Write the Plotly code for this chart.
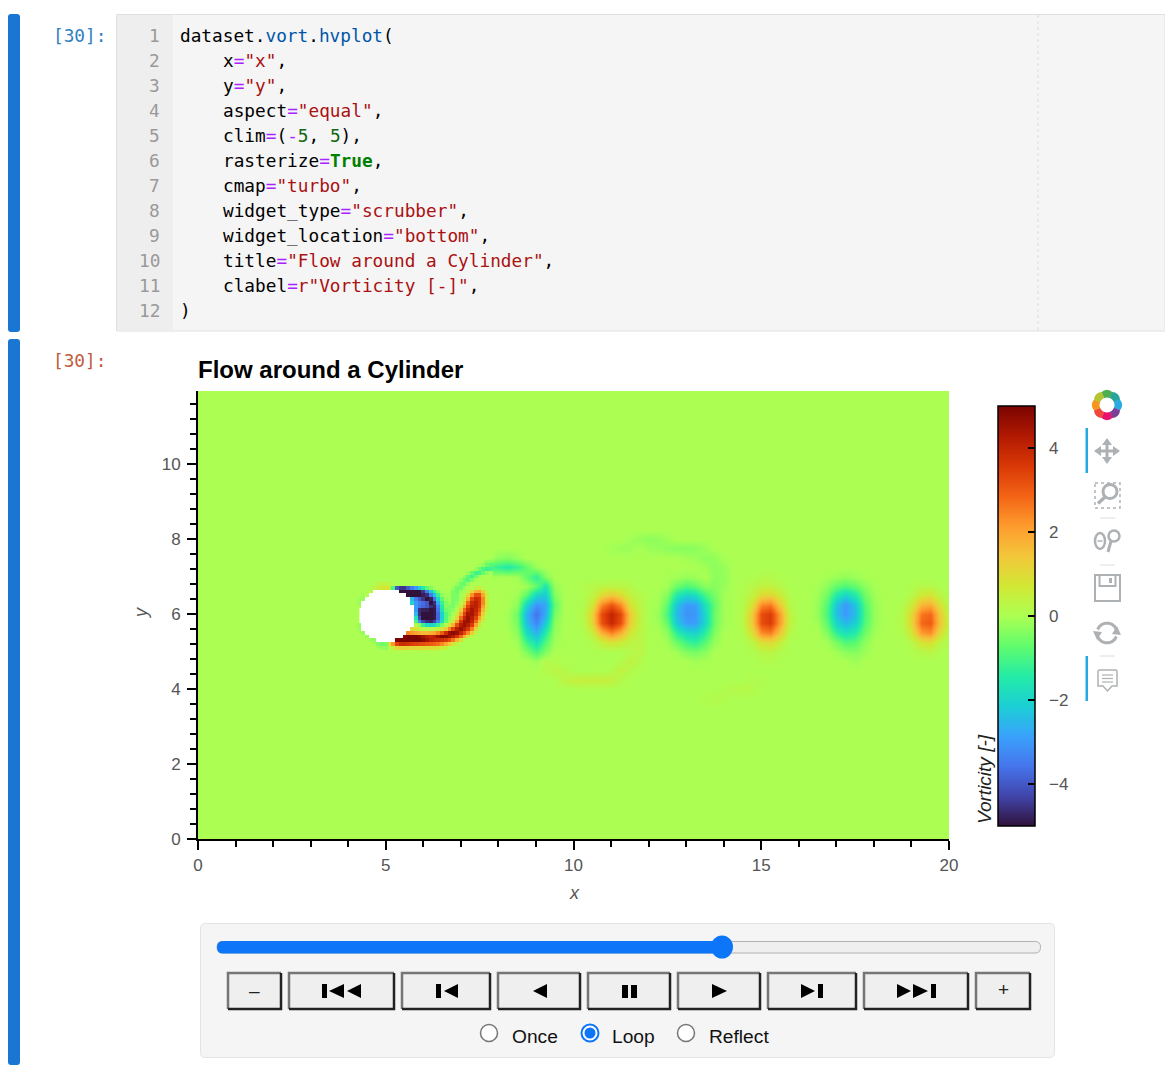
import math
import plotly.graph_objects as go

N = None

# ---------- vorticity field ----------
# Far wake, sampled every 0.25 units: {y: {x: value}}; unlisted cells are 0.
FAR_WAKE_X = [7.75 + 0.25 * i for i in range(50)]
FAR_WAKE_ROWS = {
    8.25: {},
    8.0: {11.5: -.1, 11.75: -.2, 12.0: -.3, 12.25: -.25, 12.5: -.12},
    7.75: {11.0: -.1, 11.25: -.15, 11.5: -.15, 12.0: -.15, 12.25: -.2, 12.5: -.3, 12.75: -.35, 13.0: -.35, 13.25: -.3, 13.5: -.15},
    7.5: {8.0: -.3, 8.25: -.4, 8.5: -.2, 13.0: -.1, 13.25: -.15, 13.5: -.3, 13.75: -.25, 14.0: -.05},
    7.25: {7.75: -1.0, 8.0: -1.3, 8.25: -1.5, 8.5: -1.2, 8.75: -.7, 9.0: -.15, 13.5: -.1, 13.75: -.3, 14.0: -.2},
    7.0: {7.75: -.1, 8.5: -.1, 8.75: -.7, 9.0: -1.3, 9.25: -.4, 12.5: -.05, 12.75: -.1, 13.0: -.2, 13.25: -.15, 13.75: -.3, 14.0: -.25,
          14.75: .05, 15.0: .15, 15.25: .15, 15.5: .05, 16.75: -.05, 17.0: -.15, 17.25: -.25, 17.5: -.15, 17.75: -.05},
    6.75: {8.75: -.1, 9.0: -.7, 9.25: -1.6, 9.5: -.2, 10.25: .1, 10.5: .2, 10.75: .3, 11.0: .3, 11.25: .3, 11.5: .15,
           12.5: -.1, 12.75: -.6, 13.0: -.9, 13.25: -.7, 13.5: -.3, 13.75: -.35, 14.0: -.2,
           14.5: .05, 14.75: .25, 15.0: .4, 15.25: .4, 15.5: .2, 16.5: -.05, 16.75: -.3, 17.0: -.7, 17.25: -.9, 17.5: -.7, 17.75: -.3, 18.0: -.05,
           19.0: .05, 19.25: .2, 19.5: .2, 19.75: .05},
    6.5: {8.5: -.1, 8.75: -.8, 9.0: -2.0, 9.25: -2.2, 9.5: -.4, 10.25: .1, 10.5: .3, 10.75: 1.0, 11.0: 1.4, 11.25: 1.0, 11.5: .4, 11.75: .2,
          12.25: -.05, 12.5: -.4, 12.75: -1.5, 13.0: -2.0, 13.25: -1.8, 13.5: -1.0, 13.75: -.5, 14.0: -.1,
          14.5: .1, 14.75: .4, 15.0: 1.0, 15.25: 1.1, 15.5: .6, 15.75: .1,
          16.5: -.1, 16.75: -.6, 17.0: -1.5, 17.25: -2.0, 17.5: -1.5, 17.75: -.6, 18.0: -.1, 19.0: .2, 19.25: .7, 19.5: .8, 19.75: .3},
    6.25: {8.5: -.3, 8.75: -2.0, 9.0: -3.1, 9.25: -2.8, 9.5: -.7, 10.25: .1, 10.5: .7, 10.75: 2.4, 11.0: 3.1, 11.25: 2.4, 11.5: .8, 11.75: .3,
           12.25: -.1, 12.5: -.8, 12.75: -2.3, 13.0: -3.0, 13.25: -2.9, 13.5: -1.7, 13.75: -.7, 14.0: -.1,
           14.5: .1, 14.75: .9, 15.0: 2.4, 15.25: 2.6, 15.5: 1.3, 15.75: .2,
           16.5: -.2, 16.75: -.9, 17.0: -2.3, 17.25: -3.0, 17.5: -2.3, 17.75: -.9, 18.0: -.2, 18.75: .1, 19.0: .6, 19.25: 1.7, 19.5: 1.9, 19.75: .9, 20.0: .1},
    6.0: {8.25: -.05, 8.5: -.6, 8.75: -2.6, 9.0: -3.6, 9.25: -2.7, 9.5: -.5, 10.25: .2, 10.5: 1.2, 10.75: 3.2, 11.0: 4.0, 11.25: 3.3, 11.5: 1.3, 11.75: .4,
          12.25: -.2, 12.5: -1.0, 12.75: -2.5, 13.0: -3.1, 13.25: -3.0, 13.5: -1.9, 13.75: -.6, 14.0: -.1,
          14.5: .2, 14.75: 1.4, 15.0: 3.2, 15.25: 3.5, 15.5: 2.0, 15.75: .4,
          16.5: -.2, 16.75: -1.0, 17.0: -2.4, 17.25: -3.0, 17.5: -2.4, 17.75: -1.0, 18.0: -.2, 18.75: .2, 19.0: 1.0, 19.25: 2.6, 19.5: 2.8, 19.75: 1.4, 20.0: .2},
    5.75: {8.25: -.05, 8.5: -.5, 8.75: -2.4, 9.0: -3.3, 9.25: -2.2, 9.5: -.3, 10.25: .15, 10.5: 1.1, 10.75: 3.1, 11.0: 3.9, 11.25: 3.2, 11.5: 1.2, 11.75: .4,
           12.25: -.1, 12.5: -.7, 12.75: -2.2, 13.0: -2.9, 13.25: -2.9, 13.5: -1.9, 13.75: -.6, 14.0: -.1,
           14.5: .2, 14.75: 1.4, 15.0: 3.2, 15.25: 3.5, 15.5: 2.0, 15.75: .4,
           16.5: -.1, 16.75: -.8, 17.0: -2.0, 17.25: -2.5, 17.5: -2.1, 17.75: -.9, 18.0: -.2, 18.75: .2, 19.0: 1.1, 19.25: 2.8, 19.5: 3.0, 19.75: 1.5, 20.0: .3},
    5.5: {8.5: -.3, 8.75: -1.8, 9.0: -2.6, 9.25: -1.4, 9.5: -.2, 10.25: .05, 10.5: .5, 10.75: 1.7, 11.0: 2.4, 11.25: 1.8, 11.5: .7, 11.75: .3,
          12.5: -.3, 12.75: -1.3, 13.0: -1.9, 13.25: -2.0, 13.5: -1.3, 13.75: -.4, 14.5: .1, 14.75: .9, 15.0: 2.3, 15.25: 2.5, 15.5: 1.3, 15.75: .2,
          16.75: -.4, 17.0: -1.3, 17.25: -1.7, 17.5: -1.4, 17.75: -.6, 18.0: -.1, 18.75: .1, 19.0: .7, 19.25: 2.1, 19.5: 2.3, 19.75: 1.0, 20.0: .1},
    5.25: {8.5: -.1, 8.75: -1.1, 9.0: -1.8, 9.25: -.9, 9.5: -.1, 10.5: .1, 10.75: .5, 11.0: .8, 11.25: .6, 11.5: .3, 11.75: .3,
           12.5: -.1, 12.75: -.6, 13.0: -1.1, 13.25: -1.3, 13.5: -.8, 13.75: -.2, 14.75: .3, 15.0: .9, 15.25: 1.0, 15.5: .5,
           16.75: -.1, 17.0: -.5, 17.25: -.9, 17.5: -.8, 17.75: -.3, 19.0: .2, 19.25: .8, 19.5: .9, 19.75: .3},
    5.0: {8.75: -.4, 9.0: -1.0, 9.25: -.4, 11.5: .15, 11.75: .3, 12.75: -.1, 13.0: -.4, 13.25: -.5, 13.5: -.3, 14.75: .05, 15.0: .25, 15.25: .3, 15.5: .1,
          17.0: -.1, 17.25: -.3, 17.5: -.35, 17.75: -.15, 19.0: .05, 19.25: .2, 19.5: .25, 19.75: .05},
    4.75: {9.0: -.15, 9.25: .15, 9.5: .1, 11.25: .1, 11.5: .4, 11.75: .15, 13.25: -.1, 13.5: -.05, 15.0: .1, 15.25: .1, 17.5: -.15},
    4.5: {9.25: .15, 9.5: .3, 9.75: .2, 11.0: .1, 11.25: .4, 11.5: .15},
    4.25: {9.75: .35, 10.0: .45, 10.25: .5, 10.5: .5, 10.75: .5, 11.0: .45, 11.25: .15, 14.75: .1, 15.0: .1},
    4.0: {14.0: .1, 14.25: .2, 14.5: .2, 14.75: .15},
    3.75: {13.5: .1, 13.75: .15, 14.0: .1},
    3.5: {},
}

# Near wake behind the cylinder, one cell per 0.1 units: {y: [(first x, cells), ...]}.
NEAR_WAKE_X = [4.3 + 0.1 * i for i in range(36)]
NEAR_WAKE_ROWS = {
    7.3: [(7.5, [-.1, -.3, -.6, -.9])],
    7.2: [(7.4, [-.2, -.6, -1.0, -1.2, -1.1])],
    7.1: [(7.2, [-.2, -.7, -1.1, -1.1, -.7, -.3, -.1])],
    7.0: [(7.1, [-.3, -.8, -1.1, -.6, -.2])],
    6.9: [(7.0, [-.3, -.7, -.9, -.5, -.1])],
    6.8: [(4.7, [.1, .3, .4, .4, .3, .1]), (6.9, [-.2, -.6, -.7, -.2])],
    6.7: [(4.6, [.1, .3, .5, .7, .8, .7, -1.0, -4.0, -4.5, -4.5, -4.0, -3.5, -3.0, -2.2, -1.5, -.8, -.4, -.1]),
          (6.8, [-.2, -.6, -.6, -.2]), (7.3, [.1, .4, .6, .2])],
    6.6: [(4.5, [.1, .2]), (5.4, [-5, -5, -5, -5, -5, -5, -4.5, -3.5, -2.2, -1.2, -.4, -.1]),
          (6.8, [-.5, -.6, -.2]), (7.2, [.3, 1.0, 1.8, 2.0, 1.2, .3])],
    6.5: [(4.4, [-.1, .1]), (5.6, [-5, -5, -5, -5, -4.8, -4.6, -3.5, -2.3, -1.2, -.3, -.1]),
          (6.7, [-.1, -.5, -.5, -.1]), (7.1, [.2, .9, 2.3, 3.2, 3.2, 2.0, .5])],
    6.4: [(4.3, [-.1, -.2]), (5.7, [-2.5, -3.5, -4.0, -4.5, -5, -4.8, -3.6, -2.0, -.8, -.2, -.1, -.5, -.5, -.1]),
          (7.1, [.5, 1.8, 3.3, 3.9, 3.7, 2.4, .6])],
    6.3: [(4.3, [-.2]), (5.7, [-2.0, -3.0, -3.5, -3.7, -4.0, -5, -4.6, -2.8, -1.2, -.4, -.2, -.5, -.3]),
          (7.0, [.2, 1.0, 2.8, 3.9, 4.1, 3.7, 2.4, .6])],
    6.2: [(5.8, [-3.0, -3.6, -3.8, -4.0, -4.6, -4.8, -3.4, -1.5, -.4, -.5, -.5, -.1, .5, 1.9, 3.4, 4.1, 4.1, 3.6, 2.1, .5])],
    6.1: [(5.8, [-3.0, -4.6, -4.8, -4.8, -5, -4.9, -3.6, -1.7, -.6, -.5, -.3, .1, 1.2, 2.8, 3.9, 4.4, 4.0, 3.3, 1.7, .4])],
    6.0: [(5.8, [-2.5, -4.6, -5, -5, -5, -4.9, -3.8, -2.1, -.9, -.5, -.1, .5, 2.0, 3.4, 4.4, 4.4, 3.8, 2.8, 1.2, .2])],
    5.9: [(5.8, [-1.6, -4.2, -5, -5, -5, -4.9, -3.8, -2.1, -.9, -.3, .1, 1.0, 2.8, 4.0, 4.6, 4.2, 3.4, 2.1, .8])],
    5.8: [(5.8, [-1.0, -3.2, -4.2, -4.6, -4.7, -4.3, -3.3, -1.8, -.7, -.1, .6, 2.0, 3.6, 4.5, 4.6, 4.0, 2.8, 1.4, .4])],
    5.7: [(4.3, [-.2]), (5.8, [.2, -.3, -1.2, -1.8, -2.0, -1.8, -1.2, -.5, .1, .8, 1.8, 3.2, 4.2, 4.6, 4.2, 3.5, 2.0, .7, .1])],
    5.6: [(4.3, [-.2]), (5.7, [1.0, .8, .5, .2, .1, .1, .2, .4, .8, 1.4, 2.4, 3.4, 4.2, 4.6, 4.2, 3.6, 2.5, 1.0, .2])],
    5.5: [(4.4, [-.2]), (5.6, [2.4, 2.2, 2.0, 1.8, 1.7, 1.7, 1.8, 2.0, 2.4, 3.0, 3.8, 4.6, 4.8, 4.6, 4.0, 3.3, 2.4, 1.2, .3])],
    5.4: [(4.5, [-.2]), (5.5, [4.8, 5, 5, 5, 4.8, 4.5, 4.2, 4.0, 4.2, 4.6, 4.9, 4.8, 4.6, 4.2, 3.6, 2.8, 1.8, .8, .2])],
    5.3: [(4.6, [-.2, -.3]), (5.3, [5, 5, 5, 5, 5, 5, 5, 4.8, 4.5, 4.2, 4.0, 3.9, 3.8, 3.6, 3.2, 2.6, 1.8, .9, .2])],
    5.2: [(4.7, [-.1, -.4, -.6, -.5, .8, 2.2, 3.4, 3.8, 3.8, 3.7, 3.5, 3.4, 3.3, 3.2, 3.1, 3.0, 2.9, 2.7, 2.4, 1.9, 1.4, .8, .3])],
    5.1: [(4.8, [-.1, -.2, -.3, .1, .6, 1.0, 1.2, 1.2, 1.2, 1.1, 1.1, 1.0, 1.0, 1.0, .9, .9, .8, .6, .4, .1])],
    5.0: [(5.3, [.1, .1, .1, .1, .1, .1, .1, .1, .1, .1, .1, .1])],
}

# Cells inside the cylinder carry no data: {y: (first x, last x)}.
CYLINDER_CELLS = {
    6.6: (4.7, 5.3), 6.5: (4.6, 5.5), 6.4: (4.5, 5.6), 6.3: (4.4, 5.6), 6.2: (4.4, 5.7),
    6.1: (4.3, 5.7), 6.0: (4.3, 5.7), 5.9: (4.3, 5.7), 5.8: (4.3, 5.7), 5.7: (4.4, 5.7),
    5.6: (4.4, 5.6), 5.5: (4.5, 5.5), 5.4: (4.6, 5.4), 5.3: (4.8, 5.2),
}

TURBO_COLORS = ["#30123b", "#4145ab", "#4675ed", "#39a2fc", "#1bcfd4", "#24eca6", "#61fc6c", "#acff52",
                "#d1e834", "#f3c63a", "#fe9b2d", "#f36315", "#d93806", "#b11901", "#7a0402"]
COLORBAR_TICKS = [-4, -2, 0, 2, 4]
COLORBAR_LABELS = ["\u00a0\u00a0\u22124", "\u00a0\u00a0\u22122", "\u00a0\u00a00", "\u00a0\u00a02", "\u00a0\u00a04"]
X_TICKS = [0, 5, 10, 15, 20]
Y_TICKS = [0, 2, 4, 6, 8, 10]

# ---------- notebook cell text ----------
INK, BLUE, PURPLE, RED, GREEN = "#000000", "#0055aa", "#aa22ff", "#aa1111", "#116611"
CODE_LINES = [
    (0, [("dataset.", INK), ("vort", BLUE), (".", INK), ("hvplot", BLUE), ("(", INK)]),
    (4, [("x", INK), ("=", PURPLE), ('"x"', RED), (",", INK)]),
    (4, [("y", INK), ("=", PURPLE), ('"y"', RED), (",", INK)]),
    (4, [("aspect", INK), ("=", PURPLE), ('"equal"', RED), (",", INK)]),
    (4, [("clim", INK), ("=", PURPLE), ("(", INK), ("-", PURPLE), ("5", GREEN), (", ", INK), ("5", GREEN), ("),", INK)]),
    (4, [("rasterize", INK), ("=", PURPLE), ("<b>True</b>", "#008000"), (",", INK)]),
    (4, [("cmap", INK), ("=", PURPLE), ('"turbo"', RED), (",", INK)]),
    (4, [("widget_type", INK), ("=", PURPLE), ('"scrubber"', RED), (",", INK)]),
    (4, [("widget_location", INK), ("=", PURPLE), ('"bottom"', RED), (",", INK)]),
    (4, [("title", INK), ("=", PURPLE), ('"Flow around a Cylinder"', RED), (",", INK)]),
    (4, [("clabel", INK), ("=", PURPLE), ("r", RED), ('"Vorticity [-]"', RED), (",", INK)]),
    (0, [(")", INK)]),
]


def far_wake_matrix():
    ys = sorted(FAR_WAKE_ROWS)
    return ys, [[FAR_WAKE_ROWS[y].get(x, 0) for x in FAR_WAKE_X] for y in ys]


def near_wake_matrix():
    ys = sorted(NEAR_WAKE_ROWS)
    matrix = []
    for y in ys:
        cells = [0] * len(NEAR_WAKE_X)
        for start, values in NEAR_WAKE_ROWS[y]:
            first = round((start - 4.3) * 10)
            for i, v in enumerate(values):
                if first + i < len(cells):
                    cells[first + i] = v
        if y in CYLINDER_CELLS:
            lo, hi = CYLINDER_CELLS[y]
            for i in range(round((lo - 4.3) * 10), round((hi - 4.3) * 10) + 1):
                cells[i] = N
        matrix.append(cells)
    return ys, matrix


W, H = 1165, 1081
colorscale = [[i / (len(TURBO_COLORS) - 1), c] for i, c in enumerate(TURBO_COLORS)]
SANS = "Liberation Sans"
MONO = "DejaVu Sans Mono"
TICK_GREY = "#555555"

fig = go.Figure()
far_y, far_z = far_wake_matrix()
fig.add_trace(go.Heatmap(x=FAR_WAKE_X, y=far_y, z=far_z, zmin=-5, zmax=5, colorscale=colorscale,
                         zsmooth="best", showscale=False, hoverinfo="skip"))
near_y, near_z = near_wake_matrix()
fig.add_trace(go.Heatmap(
    x=NEAR_WAKE_X, y=near_y, z=near_z, zmin=-5, zmax=5, colorscale=colorscale, hoverinfo="skip",
    colorbar=dict(
        x=998 / W, xanchor="left", xpad=0, y=1 - 826 / H, yanchor="bottom", ypad=0,
        lenmode="pixels", len=420, thicknessmode="pixels", thickness=37,
        outlinecolor="#000000", outlinewidth=1.5,
        tickvals=COLORBAR_TICKS, ticktext=COLORBAR_LABELS,
        ticks="inside", ticklen=7, tickwidth=1.5, tickcolor="#000000",
        tickfont=dict(family=SANS, size=17, color=TICK_GREY),
    ),
))

# ---------- page furniture, drawn in pixel coordinates on a hidden overlay axis ----------
shapes, notes = [], []

# Zero-vorticity background of the plot, then the blank backing for the cells with no data
shapes.append(dict(type="rect", xref="x", yref="y", x0=0, x1=20, y0=0, y1=11.95, layer="below",
                   fillcolor=TURBO_COLORS[7], line=dict(width=0)))
shapes.append(dict(type="rect", xref="x", yref="y", x0=4.3, x1=5.8, y0=5.25, y1=6.65, layer="below",
                   fillcolor="#ffffff", line=dict(width=0)))


def add_shape(**kw):
    kw.setdefault("xref", "x2")
    kw.setdefault("yref", "y2")
    kw.setdefault("layer", "above")
    shapes.append(kw)


def box(x0, y0, x1, y1, fill=None, line=None, lw=1, dash=None):
    add_shape(type="rect", x0=x0, y0=y0, x1=x1, y1=y1, fillcolor=fill or "rgba(0,0,0,0)",
              line=dict(color=line or "rgba(0,0,0,0)", width=lw if line else 0, dash=dash or "solid"))


def seg(x0, y0, x1, y1, color, lw=1, dash=None):
    add_shape(type="line", x0=x0, y0=y0, x1=x1, y1=y1, line=dict(color=color, width=lw, dash=dash or "solid"))


def rounded(x0, y0, x1, y1, r, fill, line=None, lw=1):
    path = (f"M{x0 + r},{y0} L{x1 - r},{y0} Q{x1},{y0} {x1},{y0 + r} L{x1},{y1 - r} Q{x1},{y1} {x1 - r},{y1} "
            f"L{x0 + r},{y1} Q{x0},{y1} {x0},{y1 - r} L{x0},{y0 + r} Q{x0},{y0} {x0 + r},{y0} Z")
    add_shape(type="path", path=path, fillcolor=fill,
              line=dict(color=line or "rgba(0,0,0,0)", width=lw if line else 0))


def poly(points, fill=None, line=None, lw=1, closed=True):
    path = "M" + " L".join(f"{x:.2f},{y:.2f}" for x, y in points) + (" Z" if closed else "")
    add_shape(type="path", path=path, fillcolor=fill or "rgba(0,0,0,0)",
              line=dict(color=line or "rgba(0,0,0,0)", width=lw if line else 0))


def disc(cx, cy, rx, ry=None, fill=None, line=None, lw=1):
    ry = rx if ry is None else ry
    add_shape(type="circle", x0=cx - rx, y0=cy - ry, x1=cx + rx, y1=cy + ry, fillcolor=fill or "rgba(0,0,0,0)",
              line=dict(color=line or "rgba(0,0,0,0)", width=lw if line else 0))


def text(x, y, s, size, color="#000000", family=SANS, anchor="left", **extra):
    notes.append(dict(xref="x2", yref="y2", x=x, y=y, text=s, showarrow=False, xanchor=anchor, yanchor="middle",
                      font=dict(family=family, size=size, color=color, **extra)))


# Cell collapsers and the input area
rounded(8, 14, 20, 332, 3, "#1976d2")
rounded(8, 339, 20, 1065, 3, "#1976d2")
box(116.5, 14.5, 1165, 331, fill="#f5f5f5", line="#e0e0e0")
box(117, 15, 173, 330.5, fill="#eeeeee")
seg(1038, 15, 1038, 330, "#dddddd", 1, "dot")

CODE_SIZE = 17.75
text(51, 36, "[30]:", CODE_SIZE, "#307fc1", MONO)
text(51, 361, "[30]:", CODE_SIZE, "#bf5b3d", MONO)
for i, (indent, parts) in enumerate(CODE_LINES):
    y = 35.5 + 25 * i
    text(162, y, str(i + 1), CODE_SIZE, "#999999", MONO, anchor="right")
    rich = "".join(f'<span style="color:{c}">{t}</span>' for t, c in parts)
    text(178 + indent * 10.68, y, rich, CODE_SIZE, INK, MONO)

# Toolbar logo: ring of coloured petals
PETALS = ["#4caf50", "#26a69a", "#29abe2", "#7b3f98", "#e6126e", "#f0483e", "#f7941e", "#b5c334"]
for i, color in enumerate(PETALS):
    a0 = math.radians(-112.5 + i * 45 - 1)
    pts = []
    for k in range(5):
        a = a0 + math.radians(47) * k / 4
        bulge = 14 + 1.2 * math.sin(math.pi * k / 4)
        pts.append((1107 + bulge * math.cos(a), 405 + bulge * math.sin(a)))
    for k in range(4, -1, -1):
        a = a0 + math.radians(47) * k / 4
        pts.append((1107 + 7.5 * math.cos(a), 405 + 7.5 * math.sin(a)))
    poly(pts, fill=color)

# Toolbar tool icons
GREY = "#aeb1b4"
box(1085.5, 428, 1088, 473, fill="#26aae1")
box(1085.5, 656, 1088, 701, fill="#26aae1")
for y in (518, 565, 656):
    seg(1100, y, 1115, y, "#dcdcdc", 1)
# move
box(1105.5, 444, 1108.5, 458, fill=GREY)
box(1100, 449.5, 1114, 452.5, fill=GREY)
poly([(1107, 438), (1102, 445), (1112, 445)], fill=GREY)
poly([(1107, 464), (1102, 457), (1112, 457)], fill=GREY)
poly([(1094, 451), (1101, 446), (1101, 456)], fill=GREY)
poly([(1120, 451), (1113, 446), (1113, 456)], fill=GREY)
# box zoom
box(1095, 483, 1120, 508, line=GREY, lw=1.5, dash="dot")
disc(1110, 491.5, 7, line=GREY, lw=3)
seg(1105, 497, 1098, 503.5, GREY, 3.5)
# wheel zoom
disc(1100, 541, 5, 8, line=GREY, lw=2.5)
seg(1097.5, 541, 1102.5, 541, GREY, 1.5)
disc(1114, 536, 5.5, line=GREY, lw=2.5)
seg(1111, 541, 1108, 552, GREY, 3)
# save
box(1095, 575, 1120, 601, line=GREY, lw=2)
box(1099.5, 575, 1115.5, 586, line=GREY, lw=2)
box(1109, 578, 1112, 583, fill=GREY)
# reset
for a_from, a_to in ((200, 340), (20, 160)):
    arc = [(1107 + 10 * math.cos(math.radians(a)), 633 + 10 * math.sin(math.radians(a)))
           for a in range(a_from, a_to + 1, 20)]
    poly(arc, line=GREY, lw=3, closed=False)
poly([(1117, 626), (1121, 635), (1112, 634)], fill=GREY)
poly([(1097, 640), (1093, 631), (1102, 632)], fill=GREY)
# hover
poly([(1099, 670), (1116, 670), (1117, 671), (1117, 686), (1112, 686), (1107.5, 691), (1103, 686), (1098, 686), (1098, 671)],
     line=GREY, lw=1.5)
for y in (675, 678.5, 682):
    seg(1102, y, 1113, y, GREY, 1.2)

# Player widget
rounded(200.5, 923.5, 1054.5, 1057.5, 5, "#f5f5f5", "#e3e3e3", 1)
rounded(217, 941.5, 1040.5, 953, 5.5, "#efefef", "#b2b2b2", 1)
rounded(217, 941, 722, 953.5, 6, "#0d76f8")
disc(722, 947, 11, 11.5, fill="#0d76f8")

BUTTONS = [(228, 281), (289, 394), (402, 490), (498, 580), (588, 670), (678, 760), (768, 856), (864, 968), (976, 1030)]
for x0, x1 in BUTTONS:
    box(x0, 973, x1, 1009, fill="#efefef")
    poly([(x0, 1009), (x0, 973), (x1, 973)], line="#767676", lw=2.5, closed=False)
    poly([(x1, 973), (x1, 1009), (x0, 1009)], line="#222222", lw=2.5, closed=False)


def tri_left(x0, x1, cy=991, h=7):
    poly([(x0, cy), (x1, cy - h), (x1, cy + h)], fill="#000000")


def tri_right(x0, x1, cy=991, h=7):
    poly([(x1, cy), (x0, cy - h), (x0, cy + h)], fill="#000000")


text(254, 990, "\u2013", 19, "#222222", anchor="center")
text(1003, 989, "+", 19, "#222222", anchor="center")
box(322, 984, 327, 998, fill="#000000"); tri_left(329, 344); tri_left(347, 361)
box(436, 984, 441, 998, fill="#000000"); tri_left(444, 458)
tri_left(533, 547)
box(622, 985, 628, 998, fill="#000000"); box(631, 985, 637, 998, fill="#000000")
tri_right(712, 727)
tri_right(801, 815); box(818, 984, 823, 998, fill="#000000")
tri_right(897, 911); tri_right(913, 928); box(931, 984, 936, 998, fill="#000000")

disc(489, 1033, 8.5, fill="#ffffff", line="#767676", lw=1.5)
disc(590, 1033, 8.5, fill="#ffffff", line="#0d76f8", lw=2)
disc(590, 1033, 5.5, fill="#0d76f8")
disc(686, 1033, 8.5, fill="#ffffff", line="#767676", lw=1.5)
text(510, 1036, "Once", 19.2, "#111111")
text(610, 1036, "Loop", 19.2, "#111111")
text(707, 1036, "Reflect", 19.2, "#111111")

# Plot labels
text(574, 893, "x", 18, TICK_GREY, anchor="center", style="italic")
notes.append(dict(xref="x2", yref="y2", x=141, y=613, text="y", showarrow=False, textangle=-90,
                  font=dict(family=SANS, size=18, color=TICK_GREY, style="italic")))
notes.append(dict(xref="x2", yref="y2", x=984, y=779, text="Vorticity [-]", showarrow=False, textangle=-90,
                  font=dict(family=SANS, size=19, color="#222222", style="italic")))

fig.update_layout(
    width=W, height=H, margin=dict(l=0, r=0, t=0, b=0, autoexpand=False),
    paper_bgcolor="#ffffff", plot_bgcolor="rgba(0,0,0,0)",
    showlegend=False, shapes=shapes, annotations=notes,
    title=dict(text="<b>Flow around a Cylinder</b>", x=198 / W, xanchor="left", xref="paper",
               y=1 - 370 / H, yanchor="middle", yref="paper", font=dict(family=SANS, size=24, color="#000000")),
    xaxis=dict(domain=[198 / W, 949 / W], range=[0, 20], tickvals=X_TICKS, ticks="outside", ticklen=9, tickwidth=2,
               tickcolor="#000000", showline=True, linecolor="#000000", linewidth=2, showgrid=False, zeroline=False,
               tickfont=dict(family=SANS, size=17, color=TICK_GREY), ticklabelstandoff=1,
               minor=dict(dtick=1, ticks="outside", ticklen=6, tickwidth=1.5, tickcolor="#000000", showgrid=False)),
    yaxis=dict(domain=[1 - 839 / H, 1 - 391 / H], range=[0, 11.95], tickvals=Y_TICKS, ticks="outside", ticklen=9, tickwidth=2,
               tickcolor="#000000", showline=True, linecolor="#000000", linewidth=2, showgrid=False, zeroline=False,
               tickfont=dict(family=SANS, size=17, color=TICK_GREY), ticklabelstandoff=3,
               minor=dict(dtick=0.4, ticks="outside", ticklen=6, tickwidth=1.5, tickcolor="#000000", showgrid=False)),
    xaxis2=dict(domain=[0, 1], range=[0, W], anchor="y2", visible=False, fixedrange=True),
    yaxis2=dict(domain=[0, 1], range=[H, 0], anchor="x2", visible=False, fixedrange=True),
)

fig.write_html("out.html", config=dict(displayModeBar=False))
